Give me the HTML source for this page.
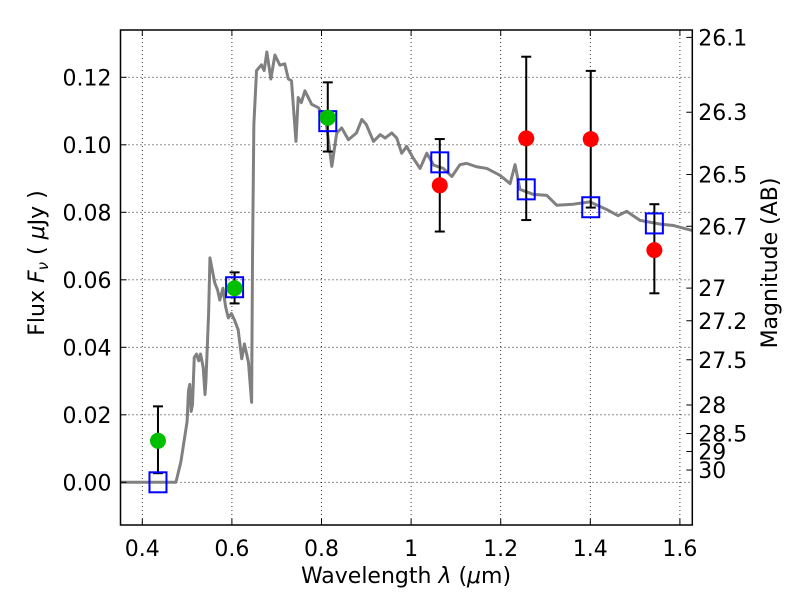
<!DOCTYPE html>
<html><head><meta charset="utf-8"><style>
body{margin:0;background:#fff;}
svg text{font-family:"DejaVu Sans","Liberation Sans",sans-serif;}
</style></head><body>
<svg id="c" width="800" height="600"></svg>
<script>
const specLam=[0.351,0.475,0.486,0.500,0.503,0.506,0.509,0.512,0.516,0.521,0.526,0.530,0.536,0.540,0.542,0.548,0.551,0.556,0.562,0.568,0.573,0.580,0.586,0.592,0.599,0.606,0.614,0.622,0.628,0.637,0.644,0.646,0.649,0.655,0.666,0.672,0.678,0.687,0.696,0.707,0.718,0.726,0.733,0.743,0.748,0.755,0.763,0.778,0.793,0.810,0.823,0.834,0.845,0.860,0.878,0.890,0.900,0.916,0.931,0.942,0.957,0.968,0.979,0.990,1.005,1.020,1.035,1.050,1.072,1.091,1.109,1.124,1.146,1.169,1.198,1.221,1.232,1.243,1.273,1.303,1.325,1.362,1.399,1.437,1.462,1.481,1.511,1.556,1.585,1.628];
const specFlux=[0,0,0.006,0.018,0.027,0.029,0.021,0.023,0.037,0.038,0.036,0.038,0.034,0.026,0.03,0.05,0.0665,0.063,0.059,0.057,0.054,0.0575,0.052,0.0487,0.050,0.048,0.0452,0.0366,0.041,0.0355,0.0237,0.0665,0.106,0.122,0.1237,0.122,0.1275,0.1195,0.1266,0.1236,0.124,0.1195,0.119,0.101,0.114,0.1125,0.116,0.112,0.111,0.107,0.0936,0.1035,0.105,0.1015,0.1035,0.1075,0.106,0.101,0.103,0.102,0.1035,0.102,0.0975,0.0995,0.096,0.093,0.0975,0.094,0.093,0.0906,0.0941,0.0945,0.0935,0.093,0.091,0.0885,0.0941,0.0868,0.0853,0.085,0.0821,0.0824,0.0831,0.0808,0.079,0.0803,0.0776,0.0765,0.0761,0.0746];
const modelLam=[0.435,0.606,0.814,1.064,1.257,1.401,1.543];
const modelFlux=[0.000,0.0578,0.107,0.0948,0.0868,0.0815,0.0767];
const greenLam=[0.435,0.606,0.814];
const greenFlux=[0.0123,0.0575,0.108];
const greenLo=[0.0027,0.053,0.098];
const greenHi=[0.0225,0.0622,0.1185];
const redLam=[1.064,1.257,1.401,1.543];
const redFlux=[0.088,0.1019,0.1017,0.0688];
const redLo=[0.0743,0.0777,0.0814,0.056];
const redHi=[0.1017,0.1261,0.1219,0.0824];
const xTicks=[0.4,0.6,0.8,1.0,1.2,1.4,1.6];
const xTickLabels=["0.4","0.6","0.8","1","1.2","1.4","1.6"];
const yTicks=[0,0.02,0.04,0.06,0.08,0.10,0.12];
const yTickLabels=["0.00","0.02","0.04","0.06","0.08","0.10","0.12"];
const magTicks=[26.1,26.3,26.5,26.7,27,27.2,27.5,28,28.5,29,30];
const magLabels=["26.1","26.3","26.5","26.7","27","27.2","27.5","28","28.5","29","30"];

const L=120.5,R=692.3,T=30,B=525;
const X=v=>142.3+(v-0.4)*448;
const Y=v=>482.3-v*3375;
const NS="http://www.w3.org/2000/svg";
const svg=document.getElementById('c');
function mk(tag,attrs,parent){const e=document.createElementNS(NS,tag);for(const k in attrs)e.setAttribute(k,attrs[k]);(parent||svg).appendChild(e);return e;}

const grid=mk('g',{});


xTicks.forEach(v=>{mk('line',{x1:X(v),x2:X(v),y1:T,y2:B,stroke:'#000','stroke-width':0.8,'stroke-dasharray':'1,3'},grid);});
yTicks.forEach(v=>{mk('line',{x1:L,x2:R,y1:Y(v),y2:Y(v),stroke:'#000','stroke-width':0.8,'stroke-dasharray':'1,3'},grid);});

const spec=mk('polyline',{points:specLam.map((l,i)=>X(l)+','+Y(specFlux[i])).join(' '),fill:'none',stroke:'#808080','stroke-width':3,'stroke-linejoin':'round'});



function errs(lams,lo,hi,name){
  const g=mk('g',{});
  
  
  lams.forEach((l,i)=>{
    const x=X(l);
    mk('line',{x1:x,x2:x,y1:Y(lo[i]),y2:Y(hi[i]),stroke:'#000','stroke-width':2},g);
    mk('line',{x1:x-5,x2:x+5,y1:Y(lo[i]),y2:Y(lo[i]),stroke:'#000','stroke-width':2},g);
    mk('line',{x1:x-5,x2:x+5,y1:Y(hi[i]),y2:Y(hi[i]),stroke:'#000','stroke-width':2},g);
  });
}
errs(greenLam,greenLo,greenHi,'green-error-bars');
errs(redLam,redLo,redHi,'red-error-bars');

const sq=mk('g',{});


modelLam.forEach((l,i)=>{mk('rect',{x:X(l)-8.5,y:Y(modelFlux[i])-10,width:17,height:20,fill:'none',stroke:'#0000ff','stroke-width':2},sq);});

const gp=mk('g',{});


greenLam.forEach((l,i)=>{mk('circle',{cx:X(l),cy:Y(greenFlux[i]),r:8,fill:'#00bf00'},gp);});
const rp=mk('g',{});


redLam.forEach((l,i)=>{mk('circle',{cx:X(l),cy:Y(redFlux[i]),r:8,fill:'#ff0000'},rp);});

const fr=mk('rect',{x:L,y:T,width:R-L,height:B-T,fill:'none',stroke:'#000','stroke-width':1.5});



const ax=mk('g',{});


xTicks.forEach((v,i)=>{
  mk('line',{x1:X(v),x2:X(v),y1:B,y2:B-6,stroke:'#000'},ax);
  mk('line',{x1:X(v),x2:X(v),y1:T,y2:T+6,stroke:'#000'},ax);
  const t=mk('text',{x:X(v),y:B+31,'text-anchor':'middle','font-size':22},ax);t.textContent=xTickLabels[i];
});
yTicks.forEach((v,i)=>{
  mk('line',{x1:L,x2:L+6,y1:Y(v),y2:Y(v),stroke:'#000'},ax);
  const t=mk('text',{x:L-9,y:Y(v)+8,'text-anchor':'end','font-size':22},ax);t.textContent=yTickLabels[i];
});
magTicks.forEach((m,i)=>{
  const y=Y(Math.pow(10,(23.9-m)/2.5));
  mk('line',{x1:R,x2:R-6,y1:y,y2:y,stroke:'#000'},ax);
  const t=mk('text',{x:R+6,y:y+8,'font-size':22},ax);t.textContent=magLabels[i];
});

const xl=mk('text',{x:406,y:583,'text-anchor':'middle','font-size':22});


xl.innerHTML='Wavelength  <tspan font-style="italic">λ</tspan> (<tspan font-style="italic">μ</tspan>m)';
const yl=mk('text',{x:0,y:0,'text-anchor':'middle','font-size':22,transform:'translate(44,263) rotate(-90)'});


yl.innerHTML='Flux  <tspan font-style="italic">F</tspan><tspan font-style="italic" font-size="15" dy="4">ν</tspan><tspan dy="-4">  (  </tspan><tspan font-style="italic">μ</tspan>Jy )';
const yr=mk('text',{x:0,y:0,'text-anchor':'middle','font-size':22,transform:'translate(777,263) rotate(-90)'});


yr.textContent='Magnitude (AB)';
</script>
</body></html>
